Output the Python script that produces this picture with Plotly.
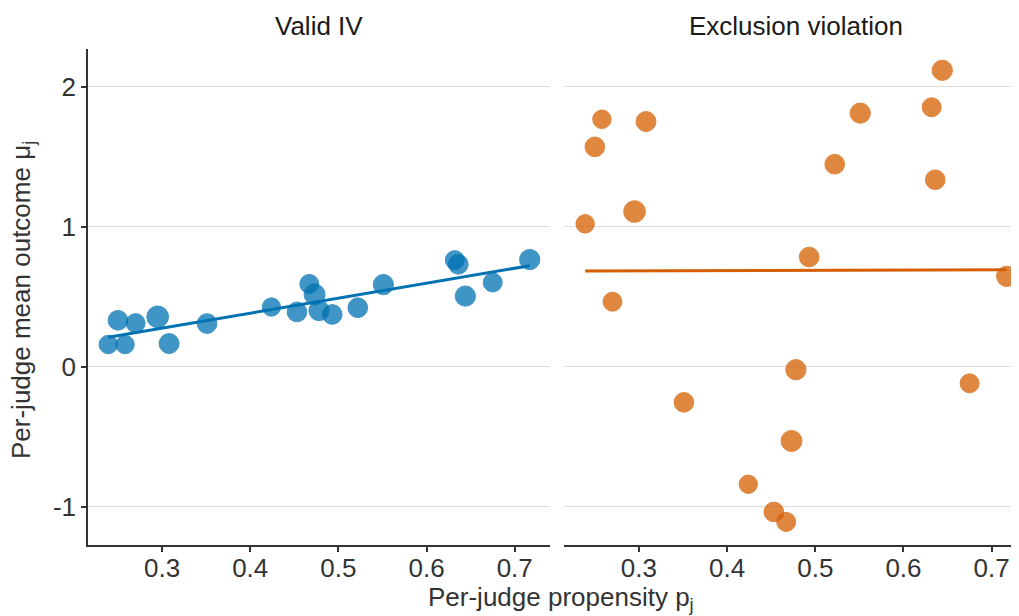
import numpy as np
import plotly.graph_objects as go

# Per-judge propensity (shared by both panels)
propensity = [0.239, 0.250, 0.258, 0.270, 0.295, 0.308, 0.351, 0.424, 0.453, 0.467,
              0.473, 0.478, 0.493, 0.522, 0.551, 0.632, 0.636, 0.644, 0.675, 0.717]
# Per-judge mean outcome, valid IV panel
valid_iv = [0.157, 0.330, 0.157, 0.310, 0.355, 0.164, 0.307, 0.425, 0.390, 0.590,
            0.515, 0.400, 0.372, 0.420, 0.585, 0.760, 0.730, 0.503, 0.600, 0.764]
# Per-judge mean outcome, exclusion violation panel
exclusion = [1.019, 1.569, 1.766, 0.463, 1.107, 1.750, -0.256, -0.841, -1.039, -1.110,
             -0.532, -0.023, 0.782, 1.445, 1.810, 1.852, 1.334, 2.116, -0.120, 0.644]
# Marker diameter (judge caseload proxy)
point_size = [19.5, 20.7, 19.5, 20.0, 22.7, 21.0, 20.7, 19.3, 20.7, 20.0,
              22.0, 21.3, 20.7, 20.7, 21.3, 20.0, 20.7, 21.3, 20.0, 21.3]

panel_titles = ["Valid IV", "Exclusion violation"]
x_ticks = [0.3, 0.4, 0.5, 0.6, 0.7]
y_ticks = [-1, 0, 1, 2]

BLUE = "#0072B2"
ORANGE = "#D55E00"
FONT = "Liberation Sans"

# page body adds an 8px margin; figure is laid out in page coords minus 8
OFF = 8
W, H = 1019 - OFF, 616 - OFF
ml, mr, mt, mb = 88 - OFF, 0, 49 - OFF, 616 - 545
pw = W - ml - mr
ph = H - mt - mb

fig = go.Figure()

def add_panel(y, color, xa, ya):
    x = np.array(propensity)
    yy = np.array(y)
    fig.add_trace(go.Scatter(
        x=x, y=yy, mode="markers", xaxis=xa, yaxis=ya, showlegend=False,
        marker=dict(size=[s - 1 for s in point_size], color=color, opacity=0.75,
                    line=dict(color=color, width=1)),
        cliponaxis=False))
    b, a = np.polyfit(x, yy, 1)
    xs = np.array([x.min(), x.max()])
    fig.add_trace(go.Scatter(
        x=xs, y=a + b * xs, mode="lines", xaxis=xa, yaxis=ya, showlegend=False,
        line=dict(color=color, width=3)))

add_panel(valid_iv, BLUE, "x", "y")
add_panel(exclusion, ORANGE, "x2", "y2")

d1 = (550 - 88) / pw
d2 = (564 - 88) / pw
yr = [-1.275, 2.268]
axis_common = dict(
    showgrid=False, zeroline=False, ticks="outside", ticklen=5, tickwidth=1.5,
    tickcolor="#333333", showline=True, linecolor="#333333", linewidth=1.5,
    tickfont=dict(family=FONT, size=26, color="#333333"), ticklabelstandoff=-6,
    tickvals=x_ticks, ticktext=[f"{t:.1f}" for t in x_ticks])
fig.update_layout(
    width=W, height=H, margin=dict(l=ml, r=mr, t=mt, b=mb),
    plot_bgcolor="white", paper_bgcolor="white",
    font=dict(family=FONT, color="#333333"),
    xaxis=dict(domain=[0, d1], range=[0.216, 0.740], **axis_common),
    xaxis2=dict(domain=[d2, 1], range=[0.215, 0.731], **axis_common),
    yaxis=dict(range=yr, tickvals=y_ticks, ticktext=[str(t) for t in y_ticks],
               showgrid=True, gridcolor="#dcdcdc", gridwidth=1, zeroline=False,
               ticks="outside", ticklen=5, tickwidth=1.5, tickcolor="#333333",
               showline=True, linecolor="#333333", linewidth=1.5,
               tickfont=dict(family=FONT, size=26, color="#333333")),
    yaxis2=dict(range=yr, anchor="x2", tickvals=y_ticks, showticklabels=False,
                showgrid=True, gridcolor="#dcdcdc", gridwidth=1, zeroline=False,
                showline=False, ticks=""),
)

def pos(px, py):
    # reference-image pixel coords -> plot-area fractions
    return (px - OFF - ml) / pw, 1 - (py - OFF - mt) / ph

ann = []
for title, cx in zip(panel_titles, [319, 796]):
    x, y = pos(cx, 26)
    ann.append(dict(text=title, x=x, y=y, xref="paper", yref="paper", showarrow=False,
                    xanchor="center", yanchor="middle",
                    font=dict(family=FONT, size=26, color="#1a1a1a")))
x, y = pos(561, 598)
ann.append(dict(text="Per-judge propensity p<sub>j</sub>", x=x, y=y,
                xref="paper", yref="paper", showarrow=False, xanchor="center", yanchor="middle",
                font=dict(family=FONT, size=26, color="#333333")))
x, y = pos(22, 300)
ann.append(dict(text="Per-judge mean outcome μ<sub>j</sub>", x=x, y=y,
                xref="paper", yref="paper", showarrow=False, xanchor="center", yanchor="middle",
                textangle=-90, font=dict(family=FONT, size=26, color="#333333")))
fig.update_layout(annotations=ann)

fig.write_html("out.html")
